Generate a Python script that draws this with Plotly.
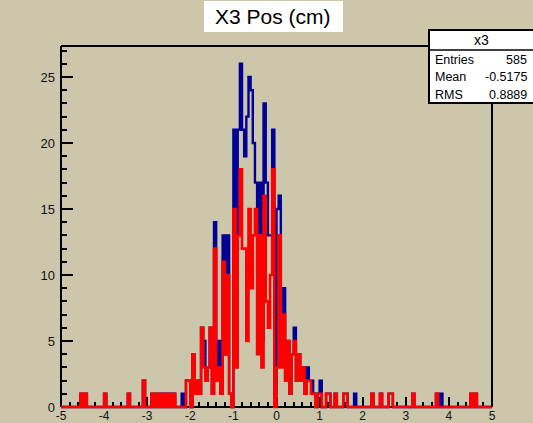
import plotly.graph_objects as go

# ---- histogram definition: 200 bins from -5 to 5 cm ----
x_lo, x_hi, n_bins = -5.0, 5.0, 200

# all x3 hits (blue)
all_counts = [
    0, 0, 0, 0, 0, 0, 0, 0, 0, 1, 0, 1, 0, 0, 0, 0, 0, 0, 0, 0,
    1, 0, 0, 0, 0, 0, 0, 0, 0, 0, 0, 1, 0, 0, 0, 0, 0, 0, 2, 0,
    0, 0, 1, 0, 1, 0, 1, 0, 1, 0, 1, 0, 1, 0, 0, 0, 1, 0, 2, 2,
    0, 4, 1, 2, 1, 6, 5, 2, 3, 6, 1, 14, 2, 5, 1, 13, 4, 13, 1, 0,
    21, 8, 21, 26, 21, 19, 22, 25, 24, 20, 17, 10, 17, 5, 23, 17, 13, 13, 21, 1,
    15, 16, 5, 9, 2, 5, 1, 4, 6, 2, 4, 2, 3, 1, 3, 2, 2, 1, 0, 1,
    2, 0, 0, 1, 1, 0, 0, 1, 0, 0, 0, 1, 1, 0, 0, 0, 1, 0, 0, 0,
    0, 0, 0, 0, 1, 0, 0, 0, 1, 0, 0, 0, 1, 1, 0, 0, 0, 0, 0, 0,
    0, 0, 0, 1, 0, 0, 0, 0, 0, 0, 0, 0, 0, 0, 1, 0, 1, 0, 0, 0,
    0, 0, 0, 0, 0, 0, 0, 0, 0, 0, 1, 0, 1, 0, 0, 0, 0, 0, 0, 0,
]

# selected subset (red)
sel_counts = [
    0, 0, 0, 0, 0, 0, 0, 0, 0, 1, 0, 1, 0, 0, 0, 0, 0, 0, 0, 0,
    1, 0, 0, 0, 0, 0, 0, 0, 0, 0, 0, 1, 0, 0, 0, 0, 0, 0, 2, 0,
    0, 0, 1, 0, 1, 0, 1, 0, 1, 0, 1, 0, 1, 0, 0, 0, 0, 0, 2, 2,
    0, 4, 1, 2, 1, 6, 3, 2, 3, 6, 1, 12, 2, 3, 1, 11, 4, 10, 1, 0,
    15, 3, 13, 18, 12, 12, 5, 15, 9, 13, 15, 4, 13, 3, 16, 8, 6, 10, 18, 0,
    3, 13, 3, 7, 2, 5, 1, 4, 5, 2, 4, 2, 3, 1, 2, 2, 1, 1, 0, 1,
    1, 0, 0, 1, 1, 0, 0, 1, 0, 0, 0, 1, 1, 0, 0, 0, 0, 0, 0, 0,
    0, 0, 0, 0, 1, 0, 0, 0, 1, 0, 0, 0, 1, 1, 0, 0, 0, 0, 0, 0,
    0, 0, 0, 1, 0, 0, 0, 0, 0, 0, 0, 0, 0, 0, 1, 0, 0, 0, 0, 0,
    0, 0, 0, 0, 0, 0, 0, 0, 0, 0, 1, 0, 1, 0, 0, 0, 0, 0, 0, 0,
]

title_text = "X3 Pos (cm)"
stats_name = "x3"
stats_rows = [("Entries", "585"), ("Mean", "-0.5175"), ("RMS", "0.8889")]

x_ticks = list(range(-5, 6))
y_max = 27.35

# ---- page geometry ----
W, H = 533, 423
ML, MR, MT, MB = 61, 41, 46, 12
PW, PH = W - ML - MR, H - MT - MB
zero_px = 407                      # pixel row of y = 0
y_scale = (zero_px - MT) / y_max   # pixels per count
y_min = -(H - MB - zero_px) / y_scale

BG = "rgb(204,198,170)"
BLUE = "rgb(0,0,150)"
RED = "rgb(255,0,0)"
FONT = "Liberation Sans, Arial, sans-serif"


def px_x(p):
    return (p - ML) / PW


def px_y(p):
    return (H - MB - p) / PH


edges = [x_lo + i * (x_hi - x_lo) / n_bins for i in range(n_bins + 1)]


def outline(counts):
    xs = [edges[0]] + edges[:-1] + [edges[-1], edges[-1]]
    ys = [0] + list(counts) + [counts[-1], 0]
    return xs, ys


fig = go.Figure()
for counts, colour, width in ((all_counts, BLUE, 2.4), (sel_counts, RED, 2.6)):
    xs, ys = outline(counts)
    fig.add_trace(go.Scatter(
        x=xs, y=ys, mode="lines", line=dict(color=colour, width=width, shape="hv"),
        hoverinfo="skip", showlegend=False,
    ))

shapes = [
    # frame lines
    dict(type="line", xref="paper", yref="y", x0=0, x1=1, y0=0, y1=0,
         line=dict(color="black", width=2), layer="below"),
    dict(type="line", xref="paper", yref="paper", x0=0, x1=0, y0=px_y(zero_px), y1=1,
         line=dict(color="black", width=2), layer="below"),
    dict(type="line", xref="paper", yref="paper", x0=0, x1=1, y0=1, y1=1,
         line=dict(color="black", width=2)),
    dict(type="line", xref="paper", yref="paper", x0=1, x1=1, y0=px_y(zero_px), y1=1,
         line=dict(color="black", width=2)),
    # title box
    dict(type="rect", xref="paper", yref="paper", x0=px_x(204), x1=px_x(343),
         y0=px_y(32), y1=px_y(1), fillcolor="white", line=dict(width=0)),
    # statistics box
    dict(type="rect", xref="paper", yref="paper", x0=px_x(429), x1=px_x(545),
         y0=px_y(103), y1=px_y(30), fillcolor="white", line=dict(color="black", width=2)),
    dict(type="line", xref="paper", yref="paper", x0=px_x(429), x1=px_x(545),
         y0=px_y(50), y1=px_y(50), line=dict(color="black", width=1.5)),
]

annotations = [
    dict(text=title_text, xref="paper", yref="paper", x=px_x(273), y=px_y(17),
         xanchor="center", yanchor="middle", showarrow=False,
         font=dict(family=FONT, size=21, color="black")),
    dict(text=stats_name, xref="paper", yref="paper", x=px_x(481), y=px_y(40),
         xanchor="center", yanchor="middle", showarrow=False,
         font=dict(family=FONT, size=14, color="black")),
]
for i, (label, value) in enumerate(stats_rows):
    ypos = px_y(60 + 17.3 * i)
    annotations.append(dict(text=label, xref="paper", yref="paper", x=px_x(433), y=ypos,
                            xanchor="left", yanchor="middle", showarrow=False,
                            font=dict(family=FONT, size=12.5, color="black")))
    annotations.append(dict(text=value, xref="paper", yref="paper", x=px_x(529), y=ypos,
                            xanchor="right", yanchor="middle", showarrow=False,
                            font=dict(family=FONT, size=12.5, color="black")))

fig.update_layout(
    width=W, height=H, autosize=False,
    margin=dict(l=ML, r=MR, t=MT, b=MB, pad=0, autoexpand=False),
    paper_bgcolor=BG, plot_bgcolor=BG,
    shapes=shapes, annotations=annotations,
    xaxis=dict(
        range=[x_lo, x_hi], anchor="free", position=px_y(zero_px), automargin=False,
        tickmode="array", tickvals=x_ticks, ticktext=[str(v) for v in x_ticks],
        ticks="inside", ticklen=10, tickwidth=2, tickcolor="black",
        minor=dict(ticks="inside", dtick=0.2, tick0=-5, ticklen=5, tickwidth=2, tickcolor="black"),
        showgrid=False, zeroline=False, showline=False, layer="below traces",
        tickfont=dict(family=FONT, size=12, color="#111"),
    ),
    yaxis=dict(
        range=[y_min, y_max], tick0=0, dtick=5, automargin=False,
        ticks="inside", ticklen=12, tickwidth=2, tickcolor="black",
        minor=dict(ticks="inside", dtick=1, tick0=0, ticklen=6, tickwidth=2, tickcolor="black"),
        showgrid=False, zeroline=False, showline=False, layer="below traces",
        ticklabelstandoff=5,
        tickfont=dict(family=FONT, size=13, color="#111"),
    ),
)

fig.write_html("out.html", config={"displayModeBar": False})
